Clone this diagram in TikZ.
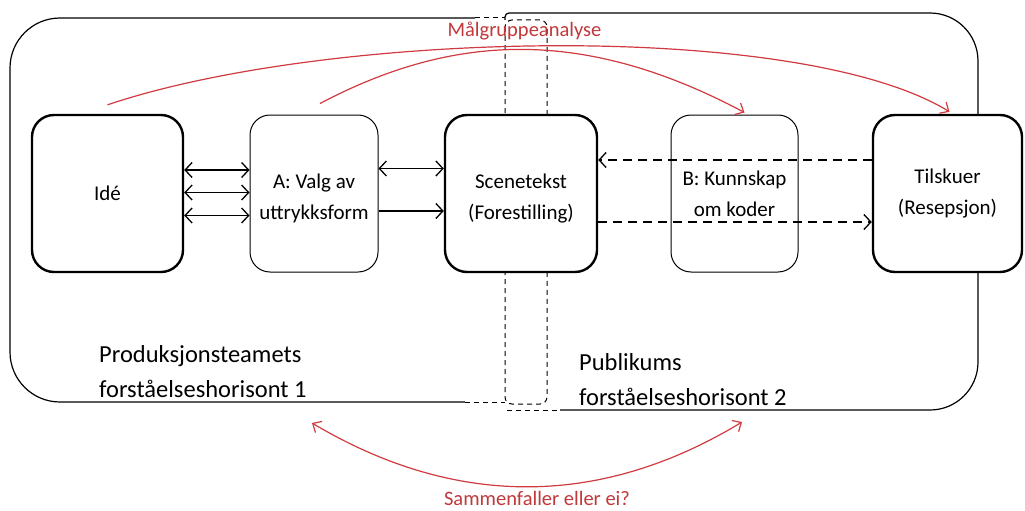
\documentclass[tikz,border=0pt]{standalone}
\usepackage{fontspec}
\setmainfont{Carlito}
\usetikzlibrary{arrows.meta}
\definecolor{redc}{RGB}{208,58,64}
\definecolor{redt}{RGB}{192,56,58}
\newcommand{\ndfont}{\fontsize{21}{31}\selectfont}
\newcommand{\lbfont}{\fontsize{24.5}{35}\selectfont}
\newcommand{\rdfont}{\fontsize{20.5}{24}\selectfont}
\newcommand{\lowerline}{\rule{0pt}{24.5pt}}
\begin{document}
\begin{tikzpicture}[x=1pt,y=-1pt,
  thickbox/.style={draw, line width=2.4pt, rounded corners=22pt, fill=white,
    minimum height=157pt, align=center, font=\ndfont, inner sep=0pt},
  thinbox/.style={draw, line width=1pt, rounded corners=20pt, fill=white,
    minimum height=157pt, align=center, font=\ndfont, inner sep=0pt},
  horizon/.style={draw, line width=1.2pt},
  overlapdash/.style={draw, line width=1pt, dash pattern=on 5pt off 4pt},
  barb/.tip={Straight Barb[length=7pt,width=15pt,line width=1.3pt]},
  rbarb/.tip={Straight Barb[length=7pt,width=13pt,line width=1.2pt]},
  link/.style={line width=1.3pt, >=barb},
  dlink/.style={line width=1.6pt, >=barb, dash pattern=on 9pt off 6pt},
  redlink/.style={draw=redc, line width=1.2pt, >=rbarb},
  lbl/.style={font=\lbfont, inner sep=0pt, anchor=base west},
  redtext/.style={font=\rdfont, text=redt, inner sep=0pt, anchor=base}]
\useasboundingbox (0,0) rectangle (1025,511);

% horizon 1 (left)
\draw[horizon, rounded corners=50pt] (475,18) -- (10,18) -- (10,402) -- (465,402);
\draw[overlapdash] (475,18) -- (505,18);
\draw[overlapdash] (465,402) -- (505,402);
% horizon 2 (right)
\draw[horizon, rounded corners=48pt] (560,410) -- (978,410) -- (978,13) -- (512,13);
\draw[horizon, rounded corners=4pt] (512,13) -- (505,13) -- (505,20);
\draw[overlapdash] (507,410) -- (560,410);
% overlap area
\draw[overlapdash, rounded corners=7pt] (505,20) rectangle (547,404);

% boxes
\node[thickbox, minimum width=151pt] (idea) at (107.5,193.5) {Idé};
\node[thinbox, minimum width=128pt] (valg) at (314,193.5) {\lowerline A: Valg av\\uttrykksform};
\node[thickbox, minimum width=152pt] (scene) at (521,193.5) {\lowerline Scenetekst\\(Forestilling)};
\node[thinbox, minimum width=127pt] (kunn) at (734.5,193.5) {B: Kunnskap\\om koder};
\node[thickbox, minimum width=149pt] (tilsk) at (947.5,193.5) {Tilskuer\\(Resepsjon)};

% black connectors
\draw[link,<->] ([yshift=23.5pt]idea.east) -- ([yshift=23.5pt]valg.west);
\draw[link,<->] ([yshift=1pt]idea.east) -- ([yshift=1pt]valg.west);
\draw[link,<->] ([yshift=-22pt]idea.east) -- ([yshift=-22pt]valg.west);
\draw[link,<->] ([yshift=25pt]valg.east) -- ([yshift=25pt]scene.west);
\draw[link,->] ([yshift=-17.5pt]valg.east) -- ([yshift=-17.5pt]scene.west);
\draw[dlink,->] ([yshift=33.5pt]tilsk.west) -- ([yshift=33.5pt]scene.east);
\draw[dlink,->] ([yshift=-28.5pt]scene.east) -- ([yshift=-28.5pt]tilsk.west);

% red connectors
\coordinate (r1s) at ([yshift=9pt]idea.north);
\coordinate (r1e) at ([xshift=2pt,yshift=2pt]tilsk.north);
\coordinate (r2s) at ([xshift=6pt,yshift=11pt]valg.north);
\coordinate (r2e) at ([xshift=10pt,yshift=2pt]kunn.north);
\draw[redlink,->] (r1s) .. controls (330,30) and (800,20) .. (r1e);
\draw[redlink,->] (r2s) .. controls (450,35) and (580,25) .. (r2e);
\coordinate (r3s) at (312,423);
\coordinate (r3e) at (742,422);
\draw[redlink,<->] (r3s) .. controls (455,508) and (600,508) .. (r3e);

% labels
\node[lbl] (p1a) at (99,362) {Produksjonsteamets};
\node[lbl] (p1b) at (99,397) {forståelseshorisont 1};
\node[lbl] (p2a) at (579,370) {Publikums};
\node[lbl] (p2b) at (579,405) {forståelseshorisont 2};
\node[redtext] (malg) at (524.5,37) {Målgruppeanalyse};
\node[redtext] (samm) at (537,505) {Sammenfaller eller ei?};
\end{tikzpicture}
\end{document}
